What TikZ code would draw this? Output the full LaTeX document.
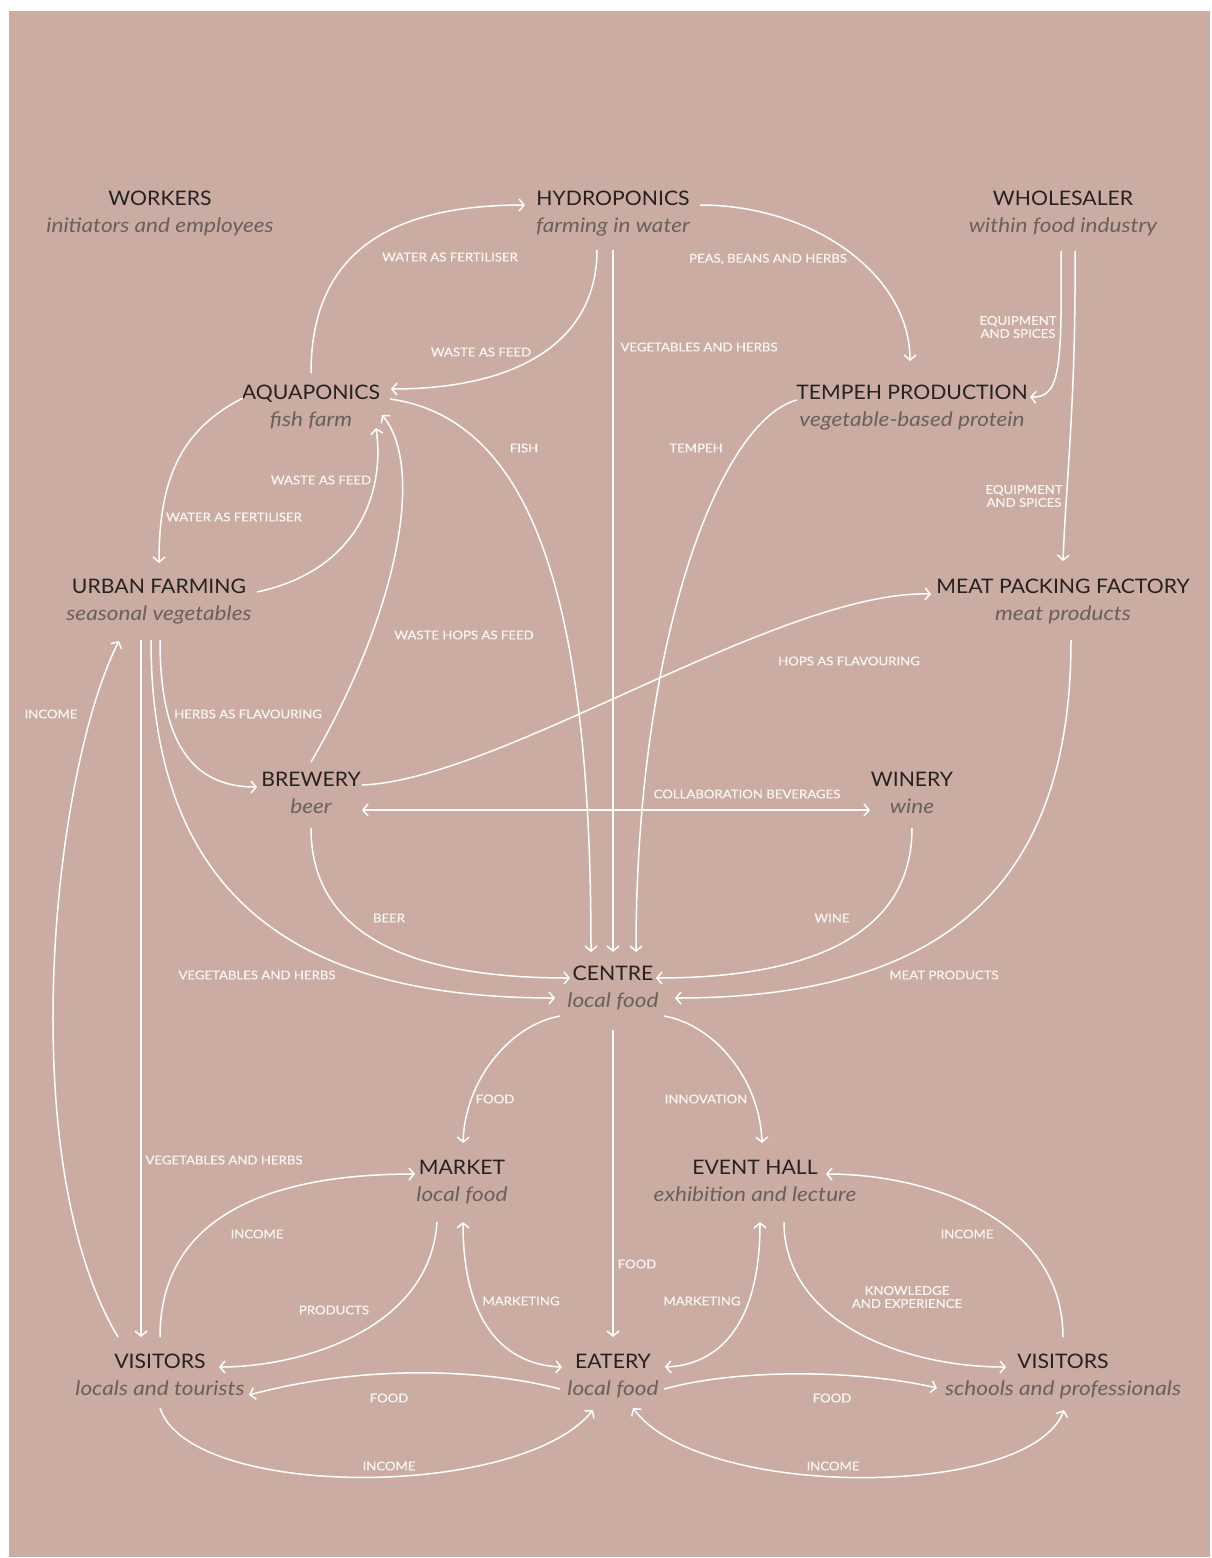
\documentclass[tikz,border=0pt]{standalone}
\usepackage{fontspec}
\setmainfont{Lato}
\newfontfamily\ttlfont{Lato}[FakeStretch=1.06]
\newfontfamily\subfont{Lato}[FakeStretch=1.13]
\newfontfamily\labfont{Lato}[FakeStretch=1.10,FakeBold=0.4]
\usetikzlibrary{arrows.meta}
\definecolor{cBg}{RGB}{202,172,162}
\definecolor{cTitle}{RGB}{38,34,33}
\definecolor{cSub}{RGB}{106,96,92}
\definecolor{cLab}{RGB}{250,246,244}
\begin{document}
\begin{tikzpicture}[x=1pt,y=-1pt,
  ttl/.style={anchor=base, text=cTitle, font=\ttlfont\fontsize{20}{22}\selectfont, inner sep=0pt},
  subt/.style={anchor=base, text=cSub, font=\subfont\fontsize{20}{22}\selectfont\itshape, inner sep=0pt},
  lab/.style={text=cLab, font=\labfont\fontsize{12}{13}\selectfont, inner sep=0pt, align=center},
  tip/.tip={Straight Barb[length=5pt,width=12pt,line width=1.5pt]},
  flow/.style={draw=white, line width=1.5pt, -tip},
  flow2/.style={draw=white, line width=1.5pt, tip-tip}]
\useasboundingbox (0,0) rectangle (1211,1558);
\fill[white] (0,0) rectangle (1211,1558);
\fill[cBg] (9,11) rectangle (1210,1557);

% entities
\node[ttl] (wk) at (160,205) {WORKERS};
\node[subt] (wks) at (160,232) {initiators and employees};
\node[ttl] (hyd) at (613,205) {HYDROPONICS};
\node[subt] (hyds) at (613,232) {farming in water};
\node[ttl] (whs) at (1063,205) {WHOLESALER};
\node[subt] (whss) at (1063,232) {within food industry};
\node[ttl] (aqu) at (311,399) {AQUAPONICS};
\node[subt] (aqus) at (311,426) {fish farm};
\node[ttl] (tem) at (912,399) {TEMPEH PRODUCTION};
\node[subt] (tems) at (912,426) {vegetable-based protein};
\node[ttl] (urb) at (159,593) {URBAN FARMING};
\node[subt] (urbs) at (159,620) {seasonal vegetables};
\node[ttl] (mea) at (1063,593) {MEAT PACKING FACTORY};
\node[subt] (meas) at (1063,620) {meat products};
\node[ttl] (bre) at (311,786) {BREWERY};
\node[subt] (bres) at (311,813) {beer};
\node[ttl] (win) at (912,786) {WINERY};
\node[subt] (wins) at (912,813) {wine};
\node[ttl] (cen) at (613,980) {CENTRE};
\node[subt] (cens) at (613,1007) {local food};
\node[ttl] (mar) at (462,1174) {MARKET};
\node[subt] (mars) at (462,1201) {local food};
\node[ttl] (evt) at (755,1174) {EVENT HALL};
\node[subt] (evts) at (755,1201) {exhibition and lecture};
\node[ttl] (vl) at (160,1368) {VISITORS};
\node[subt] (vls) at (160,1395) {locals and tourists};
\node[ttl] (eat) at (613,1368) {EATERY};
\node[subt] (eats) at (613,1395) {local food};
\node[ttl] (vr) at (1063,1368) {VISITORS};
\node[subt] (vrs) at (1063,1395) {schools and professionals};

% connectors
\draw[flow] ([shift={(0,-26)}]aqu.base) .. controls +(0,-113) and +(-145,0) .. ([shift={(-88,0)}]hyd.base);
\draw[flow] ([shift={(-16,45)}]hyd.base) .. controls +(0,90) and +(129,0) .. ([shift={(80,-10)}]aqu.base);
\draw[flow] ([shift={(0,45)}]hyd.base) -- ([shift={(0,-28)}]cen.base);
\draw[flow] ([shift={(79,0)}]aqu.base) .. controls +(150,21) and +(0,-332) .. ([shift={(-22,-28)}]cen.base);
\draw[flow] ([shift={(-115,1)}]tem.base) .. controls +(-77,20) and +(0,-312) .. ([shift={(23,-28)}]cen.base);
\draw[flow] ([shift={(87,0)}]hyd.base) .. controls +(113,0) and +(0,-86) .. ([shift={(-2,-38)}]tem.base);
\draw[flow] ([shift={(-2,46)}]whs.base) .. controls +(1,119) and +(30,1) .. ([shift={(118,-2)}]tem.base);
\draw[flow] ([shift={(12,46)}]whs.base) .. controls +(1,150) and +(3,-80) .. ([shift={(0,-32)}]mea.base);
\draw[flow] ([shift={(-68,-1)}]aqu.base) .. controls +(-63,32) and +(0,-83) .. ([shift={(0,-30)}]urb.base);
\draw[flow] ([shift={(98,-1)}]urb.base) .. controls +(103,-22) and +(9,62) .. ([shift={(65,29)}]aqu.base);
\draw[flow] ([shift={(0,-24)}]bre.base) .. controls +(90,-155) and +(42,50) .. ([shift={(71,16)}]aqu.base);
\draw[flow] ([shift={(1,47)}]urb.base) .. controls +(0,100) and +(-67,0) .. ([shift={(-54,1)}]bre.base);
\draw[flow] ([shift={(-8,47)}]urb.base) .. controls +(0,260) and +(-255,0) .. ([shift={(-58,18)}]cen.base);
\draw[flow] ([shift={(-18,47)}]urb.base) -- ([shift={(-19,-31)}]vl.base);
\draw[flow] ([shift={(-42,-31)}]vl.base) .. controls +(-106,-177) and +(-66,129) .. ([shift={(-40,48)}]urb.base);
\draw[flow] ([shift={(51,-1)}]bre.base) .. controls +(138,-5) and +(-151,-4) .. ([shift={(-132,1)}]mea.base);
\draw[flow2] ([shift={(51,24)}]bre.base) -- ([shift={(-42,24)}]win.base);
\draw[flow] ([shift={(0,42)}]bre.base) .. controls +(0,122) and +(-130,0) .. ([shift={(-43,-2)}]cen.base);
\draw[flow] ([shift={(0,42)}]win.base) .. controls +(0,122) and +(124,0) .. ([shift={(43,-2)}]cen.base);
\draw[flow] ([shift={(8,47)}]mea.base) .. controls +(0,240) and +(275,0) .. ([shift={(62,18)}]cen.base);
\draw[flow] ([shift={(-53,36)}]cen.base) .. controls +(-50,9) and +(2,-63) .. ([shift={(1,-31)}]mar.base);
\draw[flow] ([shift={(51,36)}]cen.base) .. controls +(51,9) and +(-2,-63) .. ([shift={(7,-31)}]evt.base);
\draw[flow] ([shift={(0,50)}]cen.base) -- ([shift={(0,-31)}]eat.base);
\draw[flow] ([shift={(0,-31)}]vl.base) .. controls +(0,-137) and +(-115,0) .. ([shift={(-47,0)}]mar.base);
\draw[flow] ([shift={(-25,48)}]mar.base) .. controls +(-7,108) and +(81,0) .. ([shift={(59,-1)}]vl.base);
\draw[flow2] ([shift={(1,48)}]mar.base) .. controls +(0,108) and +(-52,-2) .. ([shift={(-51,-1)}]eat.base);
\draw[flow2] ([shift={(5,48)}]evt.base) .. controls +(0,108) and +(50,-2) .. ([shift={(52,-1)}]eat.base);
\draw[flow] ([shift={(29,48)}]evt.base) .. controls +(0,98) and +(-106,0) .. ([shift={(-57,-1)}]vr.base);
\draw[flow] ([shift={(0,-31)}]vr.base) .. controls +(0,-117) and +(104,0) .. ([shift={(71,0)}]evt.base);
\draw[flow] ([shift={(-53,21)}]eat.base) .. controls +(-80,-21) and +(111,-30) .. ([shift={(89,27)}]vl.base);
\draw[flow] ([shift={(51,21)}]eat.base) .. controls +(76,-21) and +(-77,-18) .. ([shift={(-126,20)}]vr.base);
\draw[flow] ([shift={(0,40)}]vl.base) .. controls +(30,92) and +(-73,90) .. ([shift={(-20,42)}]eat.base);
\draw[flow2] ([shift={(20,40)}]eat.base) .. controls +(67,92) and +(-34,90) .. ([shift={(1,42)}]vr.base);

% labels
\node[lab] (l1) at (450,257) {WATER AS FERTILISER};
\node[lab] (l2) at (481,352) {WASTE AS FEED};
\node[lab] (l3) at (699,347) {VEGETABLES AND HERBS};
\node[lab] (l4) at (768,259) {PEAS, BEANS AND HERBS};
\node[lab] (l5) at (1018,327) {EQUIPMENT\\AND SPICES};
\node[lab] (l6) at (524,448) {FISH};
\node[lab] (l7) at (696,448) {TEMPEH};
\node[lab] (l8) at (321,480) {WASTE AS FEED};
\node[lab] (l9) at (234,517) {WATER AS FERTILISER};
\node[lab] (l10) at (1024,496) {EQUIPMENT\\AND SPICES};
\node[lab] (l11) at (464,635) {WASTE HOPS AS FEED};
\node[lab] (l12) at (849,661) {HOPS AS FLAVOURING};
\node[lab] (l13) at (51,714) {INCOME};
\node[lab] (l14) at (248,714) {HERBS AS FLAVOURING};
\node[lab] (l15) at (747,794) {COLLABORATION BEVERAGES};
\node[lab] (l16) at (389,918) {BEER};
\node[lab] (l17) at (832,918) {WINE};
\node[lab] (l18) at (257,975) {VEGETABLES AND HERBS};
\node[lab] (l19) at (944,975) {MEAT PRODUCTS};
\node[lab] (l20) at (495,1099) {FOOD};
\node[lab] (l21) at (706,1099) {INNOVATION};
\node[lab] (l22) at (224,1160) {VEGETABLES AND HERBS};
\node[lab] (l23) at (257,1234) {INCOME};
\node[lab] (l24) at (967,1234) {INCOME};
\node[lab] (l25) at (637,1264) {FOOD};
\node[lab] (l26) at (907,1297) {KNOWLEDGE\\AND EXPERIENCE};
\node[lab] (l27) at (334,1310) {PRODUCTS};
\node[lab] (l28) at (521,1301) {MARKETING};
\node[lab] (l29) at (702,1301) {MARKETING};
\node[lab] (l30) at (389,1398) {FOOD};
\node[lab] (l31) at (832,1398) {FOOD};
\node[lab] (l32) at (389,1466) {INCOME};
\node[lab] (l33) at (833,1466) {INCOME};
\end{tikzpicture}
\end{document}
